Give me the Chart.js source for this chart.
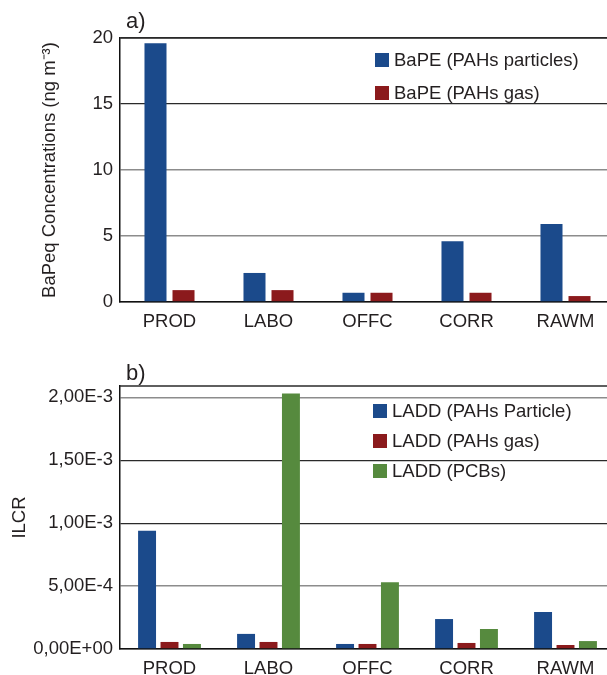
<!DOCTYPE html>
<html>
<head>
<meta charset="utf-8">
<script src="https://cdn.jsdelivr.net/npm/chart.js@4.4.1/dist/chart.umd.min.js"></script>
<style>
    html, body { margin: 0; padding: 0; background: #fff; overflow: hidden; width: 607px; height: 675px; }
    .wrap { position: relative; width: 615px; }
    #top-wrap { height: 335px; }
    #bot-wrap { height: 340px; }
</style>
</head>
<body>
<div class="wrap" id="top-wrap"><canvas id="chart-a"></canvas></div>
<div class="wrap" id="bot-wrap"><canvas id="chart-b"></canvas></div>
<script>
// sampling sites
const sites = ['PROD', 'LABO', 'OFFC', 'CORR', 'RAWM'];

// a) BaPeq concentrations (ng m-3)
const bapeParticles = [19.6, 2.2, 0.7, 4.6, 5.9];
const bapeGas = [0.9, 0.9, 0.7, 0.7, 0.45];
const bapeTicks = [0, 5, 10, 15, 20];

// b) ILCR
const laddParticle = [9.4e-4, 1.2e-4, 4.0e-5, 2.38e-4, 2.94e-4];
const laddGas = [5.6e-5, 5.6e-5, 4.0e-5, 4.8e-5, 3.2e-5];
const laddPcbs = [4.0e-5, 2.03e-3, 5.3e-4, 1.59e-4, 6.3e-5];
const ilcrTicks = [0, 5e-4, 1e-3, 1.5e-3, 2e-3];

const BLUE = '#1b4a8b';
const RED = '#8b1a1c';
const GREEN = '#568a3e';
const TEXT = '#231f20';
const FONT = "'Liberation Sans', Arial, sans-serif";
const FS = 18.5;

Chart.defaults.font.family = FONT;
Chart.defaults.color = TEXT;
Chart.defaults.animation = false;

// panel letter + legend drawn inside the plot
function panelPlugin(letter, letterY, legendX, legendY, rowGap) {
    return {
        id: 'panel-' + letter,
        afterDraw(chart) {
            const ctx = chart.ctx;
            ctx.save();
            ctx.fillStyle = TEXT;
            ctx.font = '22px ' + FONT;
            ctx.textBaseline = 'alphabetic';
            ctx.fillText(letter, 126, letterY);

            ctx.font = FS + 'px ' + FONT;
            ctx.textBaseline = 'middle';
            chart.data.datasets.forEach((ds, i) => {
                const y = legendY + i * rowGap;
                ctx.fillStyle = ds.backgroundColor;
                ctx.fillRect(legendX, y - 7, 14, 14);
                ctx.fillStyle = TEXT;
                ctx.fillText(ds.label, legendX + 19, y + 1);
            });

            // plot top edge
            const a = chart.chartArea;
            ctx.strokeStyle = '#2a2a2a';
            ctx.lineWidth = 1.5;
            ctx.beginPath();
            ctx.moveTo(a.left, a.top);
            ctx.lineTo(a.right, a.top);
            ctx.stroke();
            ctx.restore();
        },
    };
}

function xScale(height) {
    return {
        grid: { drawOnChartArea: false, drawTicks: false },
        border: { color: '#111', width: 1.5 },
        ticks: { font: { size: FS }, padding: 9, color: TEXT },
        afterFit: s => { s.height = height; },
    };
}

function yScale(title, titlePad, ticksArr, max, darkVals, fmt) {
    return {
        min: 0,
        max: max,
        afterBuildTicks: s => { s.ticks = ticksArr.map(v => ({ value: v })); },
        afterFit: s => { s.width = 120; },
        grid: {
            drawTicks: false,
            color: c => darkVals.includes(c.tick.value) ? '#2a2a2a' : '#8c8c8c',
            lineWidth: c => darkVals.includes(c.tick.value) ? 1.2 : 1.6,
        },
        border: { color: '#111', width: 1.5 },
        ticks: { font: { size: FS }, padding: 7, color: TEXT, callback: fmt },
        title: {
            display: true,
            text: title,
            font: { size: FS },
            color: TEXT,
            padding: { top: titlePad, bottom: 0 },
        },
    };
}

new Chart(document.getElementById('chart-a'), {
    type: 'bar',
    data: {
        labels: sites,
        datasets: [
            { label: 'BaPE (PAHs particles)', data: bapeParticles, backgroundColor: BLUE },
            { label: 'BaPE (PAHs gas)', data: bapeGas, backgroundColor: RED },
        ],
    },
    options: {
        responsive: true,
        maintainAspectRatio: false,
        layout: { padding: { top: 38, right: 0, bottom: 3, left: 0 } },
        datasets: { bar: { categoryPercentage: 0.566, barPercentage: 0.786 } },
        scales: {
            x: xScale(30),
            y: yScale('BaPeq Concentrations (ng m\u207B\u00B3)', 39, bapeTicks, 20, [15, 20], v => String(v)),
        },
        plugins: { legend: { display: false }, tooltip: { enabled: false } },
    },
    plugins: [panelPlugin('a)', 28, 375, 60, 33)],
});

function sci(v) {
    if (v === 0) return '0,00E+00';
    return v.toExponential(2).replace('.', ',').replace('e', 'E');
}

new Chart(document.getElementById('chart-b'), {
    type: 'bar',
    data: {
        labels: sites,
        datasets: [
            { label: 'LADD (PAHs Particle)', data: laddParticle, backgroundColor: BLUE },
            { label: 'LADD (PAHs gas)', data: laddGas, backgroundColor: RED },
            { label: 'LADD (PCBs)', data: laddPcbs, backgroundColor: GREEN },
        ],
    },
    options: {
        responsive: true,
        maintainAspectRatio: false,
        layout: { padding: { top: 51, right: 0, bottom: 0, left: 0 } },
        datasets: { bar: { categoryPercentage: 0.68, barPercentage: 0.8 } },
        scales: {
            x: xScale(26),
            y: yScale('ILCR', 9, ilcrTicks, 2.09e-3, [1.5e-3, 1e-3], sci),
        },
        plugins: { legend: { display: false }, tooltip: { enabled: false } },
    },
    plugins: [panelPlugin('b)', 45, 373, 76, 30)],
});
</script>
</body>
</html>
